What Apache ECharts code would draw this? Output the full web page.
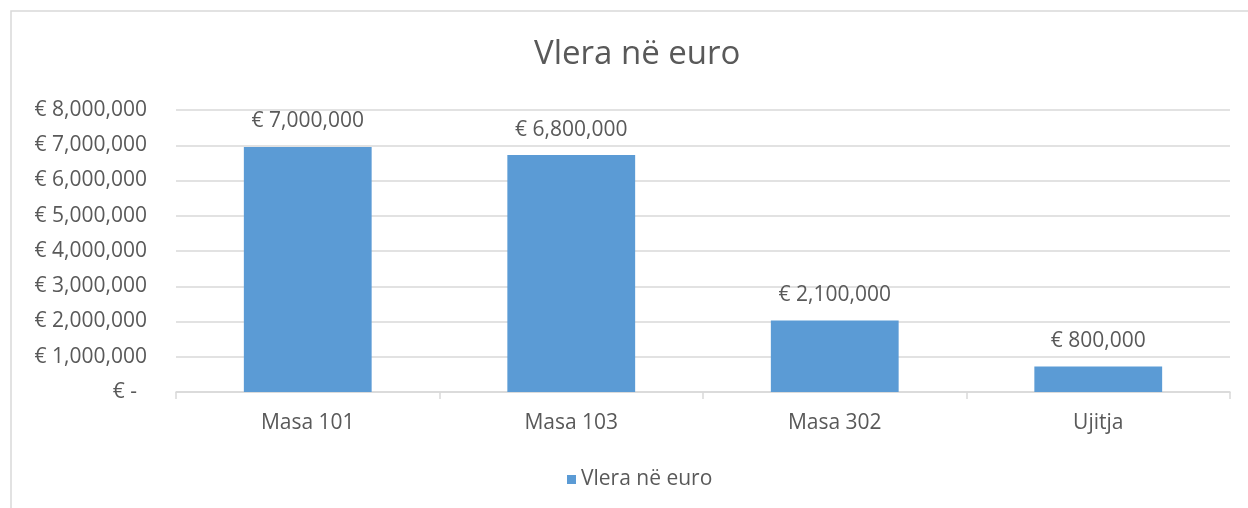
<!DOCTYPE html>
<html>
<head>
<meta charset="utf-8">
<script src="https://cdn.jsdelivr.net/npm/echarts@6/dist/echarts.min.js"></script>
<style>
  html, body { margin: 0; padding: 0; background: #fff; }
  #chart { width: 1248px; height: 508px; }
</style>
</head>
<body>
<div id="chart"></div>
<script>
// categories and values
var categories = ['Masa 101', 'Masa 103', 'Masa 302', 'Ujitja'];
var barValues = [6950000, 6720000, 2030000, 720000];     // bar heights
var labelValues = [7000000, 6800000, 2100000, 800000];  // printed data labels
var yTicks = { min: 0, max: 8000000, interval: 1000000 };
var seriesName = 'Vlera në euro';

var textColor = '#595959';
var fontFamily = '"Open Sans", "Noto Sans", sans-serif';
var fs = 21;

function euro(v) {
    return '€ ' + Number(v).toLocaleString('en-US');
}

var chart = echarts.init(document.getElementById('chart'));

chart.setOption({
    animation: false,
    textStyle: { fontFamily: fontFamily, color: textColor },
    graphic: [{
        // outer chart frame
        type: 'rect',
        shape: { x: 11, y: 11, width: 1300, height: 600 },
        style: { fill: 'none', stroke: '#d9d9d9', lineWidth: 1.5 },
        silent: true
    }],
    title: {
        text: seriesName,
        left: 534,
        top: 38,
        padding: 0,
        textStyle: { fontSize: 33, fontWeight: 'normal', color: textColor, fontFamily: fontFamily }
    },
    legend: {
        bottom: 13,
        left: 562,
        icon: 'rect',
        itemWidth: 9,
        itemHeight: 9,
        itemGap: 10,
        textStyle: { fontSize: fs, color: textColor, fontFamily: fontFamily },
        data: [seriesName]
    },
    grid: { left: 176, right: 18, top: 110, bottom: 116, containLabel: false },
    xAxis: {
        type: 'category',
        data: categories,
        axisLine: { lineStyle: { color: '#d9d9d9', width: 1.5 } },
        axisTick: { show: true, length: 7, lineStyle: { color: '#d9d9d9', width: 1.5 } },
        axisLabel: { fontSize: fs, color: textColor, margin: 21 }
    },
    yAxis: {
        type: 'value',
        min: yTicks.min,
        max: yTicks.max,
        interval: yTicks.interval,
        axisLine: { show: false },
        axisTick: { show: false },
        splitLine: { lineStyle: { color: '#d9d9d9', width: 1.5 } },
        axisLabel: {
            fontSize: fs,
            color: textColor,
            margin: 29,
            formatter: function (v) {
                return v === 0 ? '{z|€ -}' : euro(v);
            },
            rich: { z: { fontSize: fs, color: textColor, padding: [0, 10, 0, 0] } }
        }
    },
    series: [{
        name: seriesName,
        type: 'bar',
        data: barValues,
        barWidth: '48.5%',
        itemStyle: { color: '#5b9bd5' },
        label: {
            show: true,
            position: 'top',
            distance: 15,
            fontSize: fs,
            color: textColor,
            formatter: function (p) {
                return euro(labelValues[p.dataIndex]);
            }
        }
    }]
});
</script>
</body>
</html>
